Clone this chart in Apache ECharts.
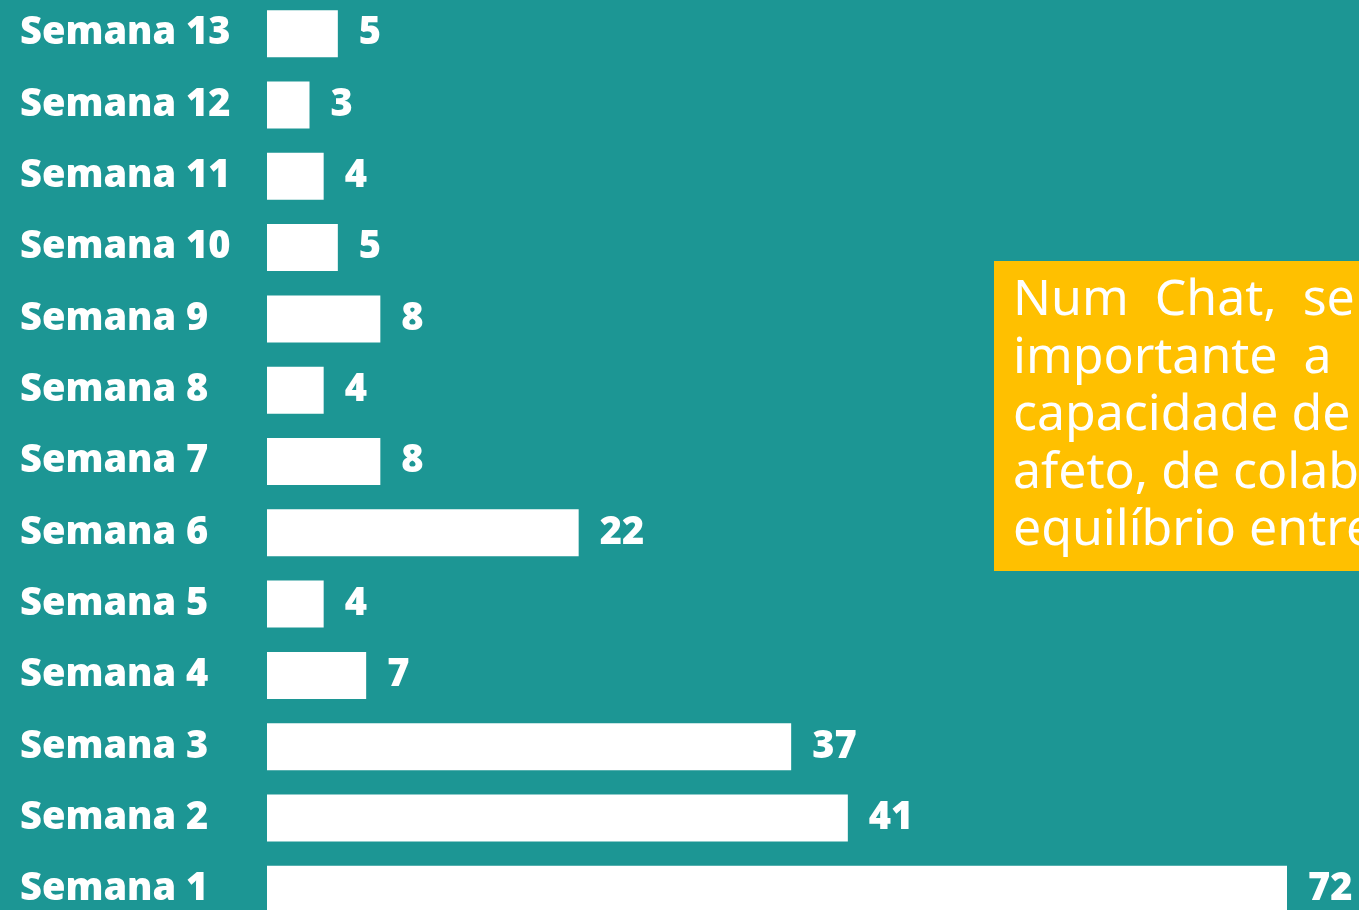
<!DOCTYPE html>
<html>
<head>
<meta charset="utf-8">
<script src="https://cdn.jsdelivr.net/npm/echarts@6/dist/echarts.min.js"></script>
<style>
html,body{margin:0;padding:0;background:#1C9694;}
#chart{width:1359px;height:910px;}
</style>
</head>
<body>
<div id="chart"></div>
<script>
const categories = ["Semana 1","Semana 2","Semana 3","Semana 4","Semana 5","Semana 6","Semana 7","Semana 8","Semana 9","Semana 10","Semana 11","Semana 12","Semana 13"];
const values = [72,41,37,7,4,22,8,4,8,5,4,3,5];
const noteLines = ["Num  Chat,  se","importante  a","capacidade de","afeto, de colab","equilíbrio entre"];

const chart = echarts.init(document.getElementById('chart'));
const labelFont = '"Open Sans", "DejaVu Sans", sans-serif';
chart.setOption({
  backgroundColor: '#1C9694',
  animation: false,
  grid: {left: 267, top: -2, width: 1020, height: 927, containLabel: false, outerBoundsMode: 'none'},
  xAxis: {type: 'value', min: 0, max: 72, show: false},
  yAxis: {
    type: 'category', data: categories,
    axisLine: {show: false}, axisTick: {show: false}, splitLine: {show: false},
    axisLabel: {
      align: 'left', margin: 247, color: '#ffffff',
      fontFamily: labelFont, fontWeight: 800, fontSize: 38
    }
  },
  series: [{
    type: 'bar', data: values, barWidth: 47,
    itemStyle: {color: '#ffffff'},
    label: {
      show: true, position: 'right', distance: 21, color: '#ffffff',
      fontFamily: labelFont, fontWeight: 800, fontSize: 38
    }
  }],
  graphic: [
    {type: 'rect', left: 994, top: 261, shape: {width: 400, height: 310}, style: {fill: '#FFC000'}, z: 10},
    {type: 'text', left: 1013, top: 272, z: 11,
     style: {text: noteLines.join('\n'), fill: '#ffffff', font: '400 50px "Noto Sans", "Open Sans", sans-serif', lineHeight: 57.5}}
  ]
});
</script>
</body>
</html>
